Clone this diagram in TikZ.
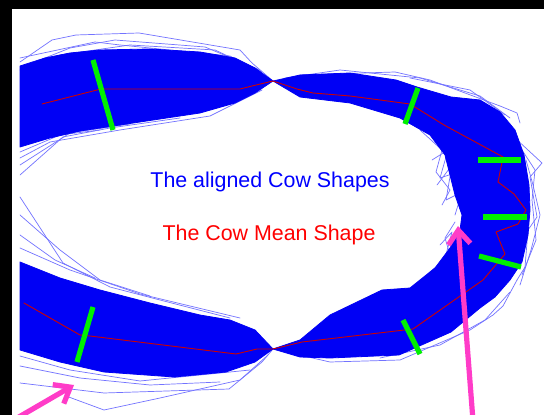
\documentclass[tikz,border=0pt]{standalone}
\usepackage{fontspec}
\setmainfont{Liberation Sans}
\usetikzlibrary{arrows.meta}
\definecolor{cowblue}{RGB}{0,0,245}
\definecolor{meanred}{RGB}{205,0,0}
\definecolor{markgreen}{RGB}{0,240,0}
\definecolor{pinkarrow}{RGB}{255,60,200}
\begin{document}
\begin{tikzpicture}[x=0.5pt,y=-0.5pt,line join=round,line cap=round]
	\tikzset{band/.style={fill=cowblue,draw=cowblue,line width=0.4pt},
		outlier/.style={draw=blue!55,line width=0.35pt},
		meanline/.style={draw=meanred,line width=0.45pt},
		landmark/.style={draw=markgreen,line width=2.6pt,line cap=butt},
		pointer/.style={draw=pinkarrow,line width=2.6pt,-{Straight Barb[length=7pt,width=11pt]}},
		caption/.style={font=\fontsize{10.7}{13}\selectfont,inner sep=0pt}}
	\useasboundingbox (0,0) rectangle (544,415);
	\fill[white] (0,0) rectangle (544,415);
	% outlying shapes
	\foreach \p in {
		{(20,62) -- (52,40) -- (76,35) -- (139,33) -- (240,50) -- (252,63) -- (273,81)},
		{(20,58) -- (95,42) -- (120,45) -- (230,56) -- (273,81)},
		{(25,66) -- (70,48) -- (115,40) -- (205,47) -- (260,70)},
		{(20,70) -- (60,55) -- (130,45) -- (215,50) -- (262,72)},
		{(20,175) -- (63,137) -- (110,128) -- (180,118)},
		{(20,165) -- (70,133) -- (130,124)},
		{(20,152) -- (60,135) -- (100,130)},
		{(20,158) -- (50,142) -- (120,130) -- (210,116) -- (262,90)},
		{(300,75) -- (395,72) -- (430,80) -- (500,106) -- (517,113) -- (520,123)},
		{(410,78) -- (470,90) -- (505,115)},
		{(285,78) -- (340,70) -- (420,78) -- (480,96) -- (510,118)},
		{(515,138) -- (542,163) -- (530,177) -- (537,217) -- (528,230) -- (525,267) -- (517,280)},
		{(522,150) -- (535,170) -- (532,200) -- (536,240) -- (522,275)},
		{(526,160) -- (533,185) -- (540,215) -- (531,250) -- (520,285)},
		{(517,280) -- (503,306) -- (493,315) -- (470,330) -- (400,360) -- (330,362) -- (273,349)},
		{(510,292) -- (485,320) -- (440,345) -- (380,358)},
		{(20,383) -- (104,393) -- (229,389) -- (262,362) -- (273,349)},
		{(66,396) -- (104,410) -- (160,398) -- (240,380) -- (268,355)},
		{(20,366) -- (80,378) -- (150,385) -- (220,382)},
		{(20,356) -- (70,370) -- (140,381) -- (250,370)},
		{(20,197) -- (63,263) -- (110,287) -- (160,300) -- (230,318)},
		{(20,215) -- (60,250) -- (100,280) -- (150,296)},
		{(20,235) -- (55,260) -- (95,278)},
		{(20,248) -- (70,270) -- (140,294) -- (240,318)},
		{(437,185) -- (452,165) -- (446,200) -- (462,192) -- (455,215)},
		{(440,245) -- (452,232) -- (444,262) -- (458,250) -- (438,275)},
		{(432,160) -- (448,150) -- (440,178) -- (458,172)},
		{(420,130) -- (442,150) -- (436,172) -- (450,190) -- (442,205)},
		{(455,222) -- (445,238) -- (450,255) -- (430,272) -- (420,285)}}
	\draw[outlier] \p;
	% aligned shapes
	\fill[band] (20,66) -- (45,58) -- (70,53) -- (100,50) -- (150,49) -- (200,52)
		-- (235,58) -- (255,68) -- (273,81) -- (255,93) -- (235,103) -- (200,113)
		-- (160,119) -- (120,125) -- (80,131) -- (50,138) -- (20,147) -- cycle;
	\fill[band] (273,81) -- (300,75) -- (350,73) -- (396,80) -- (417,87) -- (451,97)
		-- (480,100) -- (500,112) -- (515,130) -- (524,155) -- (529,185) -- (530,210)
		-- (528,235) -- (522,262) -- (510,280) -- (495,297) -- (480,308) -- (451,332)
		-- (399,355) -- (330,358) -- (300,357) -- (273,349) -- (300,340) -- (330,315)
		-- (382,290) -- (410,288) -- (435,268) -- (450,248) -- (460,230) -- (462,215)
		-- (455,195) -- (450,175) -- (445,155) -- (430,135) -- (400,118) -- (350,103)
		-- (300,97) -- cycle;
	\fill[band] (273,349) -- (255,330) -- (230,320) -- (200,315) -- (150,303)
		-- (100,290) -- (60,278) -- (20,262) -- (20,350) -- (60,362) -- (104,372)
		-- (174,377) -- (226,372) -- (255,362) -- cycle;
	% mean shape
	\draw[meanline] (42,104) -- (101,89) -- (167,89) -- (240,89) -- (252,86) -- (273,81)
		-- (297,89) -- (313,93) -- (350,96) -- (410,104) -- (444,125) -- (503,157)
		-- (498,182) -- (514,194) -- (526,210) -- (518,224) -- (496,232) -- (505,254)
		-- (483,280) -- (413,329) -- (302,342) -- (273,349) -- (257,349) -- (236,354)
		-- (90,336) -- (80,335) -- (24,303);
	% landmarks
	\foreach \xa/\ya/\xb/\yb in {93/60/113/130, 418/88/405/124, 478/160/521/160,
		483/217/527/217, 479/256/521/267, 403/320/420/354, 93/307/77/362}
	\draw[landmark] (\xa,\ya) -- (\xb,\yb);
	% labels
	\node[caption,text=blue] (aligned) at (270,182) {The aligned Cow Shapes};
	\node[caption,text=red] (mean) at (269,235) {The Cow Mean Shape};
	% pointers
	\coordinate (tailL) at (12,421);
	\coordinate (tipL) at (74,385);
	\coordinate (tailR) at (473,421);
	\coordinate (tipR) at (458,226);
	\draw[pointer] (tailL) -- (tipL);
	\draw[pointer] (tailR) -- (tipR);
	% frame
	\fill[black] (0,0) rectangle (544,9);
	\fill[black] (0,0) rectangle (12,415);
\end{tikzpicture}
\end{document}
